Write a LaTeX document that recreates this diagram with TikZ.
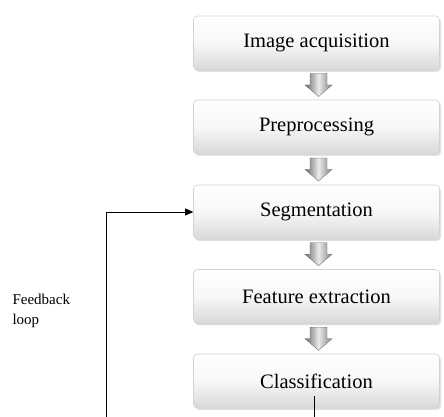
\documentclass[tikz,border=0pt]{standalone}
\usepackage{fontspec}
\setmainfont{Liberation Serif}
\usetikzlibrary{shadows,arrows.meta,calc}
\begin{document}
\begin{tikzpicture}[x=1pt,y=1pt,
  stage/.style={draw=gray!35, line width=0.6pt, rounded corners=4pt,
    top color=white, bottom color=gray!30, middle color=gray!6,
    minimum width=246pt, minimum height=54pt,
    font=\fontsize{20.5}{24}\selectfont,
    drop shadow={shadow xshift=1.5pt, shadow yshift=-2pt, opacity=0.35, fill=gray!70}},
  blockarrow/.style={draw=black!55, line width=0.4pt, left color=black!60, right color=black!50, middle color=black!8},
  fb/.style={line width=0.7pt, black}]
\useasboundingbox (0,0) rectangle (444,417);
\node[stage] (acq) at (316.5,374) {Image acquisition};
\node[stage] (pre) at (316.5,290) {Preprocessing};
\node[stage] (seg) at (316.5,205) {Segmentation};
\node[stage] (fea) at (316.5,120.5) {Feature extraction};
\node[stage] (cls) at (316.5,36) {Classification};
% block arrows
\foreach \a/\b in {acq/pre,pre/seg,seg/fea,fea/cls}{
  \path ($(\a.south)!0.5!(\b.north)$) ++(2,0) coordinate (m\a);
}
\foreach \c in {macq,mpre,mseg,mfea}{
  \path[blockarrow] ([xshift=-8.5pt,yshift=11.5pt]\c) -- ([xshift=8.5pt,yshift=11.5pt]\c)
    -- ([xshift=8.5pt,yshift=0pt]\c) -- ([xshift=13.5pt,yshift=0pt]\c)
    -- ([yshift=-11.5pt]\c) -- ([xshift=-13.5pt,yshift=0pt]\c)
    -- ([xshift=-8.5pt,yshift=0pt]\c) -- cycle;
}
% feedback loop
\coordinate (fbot) at (106,0);
\coordinate (cbot) at (314,0);
\coordinate (ctop) at (314,21);
\draw[fb] (ctop) -- (cbot);
\draw[fb,-{Triangle[length=8pt,width=7pt]}] (fbot) |- (seg.west);
\node[anchor=base west, font=\fontsize{15}{20}\selectfont, align=left] (lbl) at (9,92) {Feedback\\loop};
\end{tikzpicture}
\end{document}
